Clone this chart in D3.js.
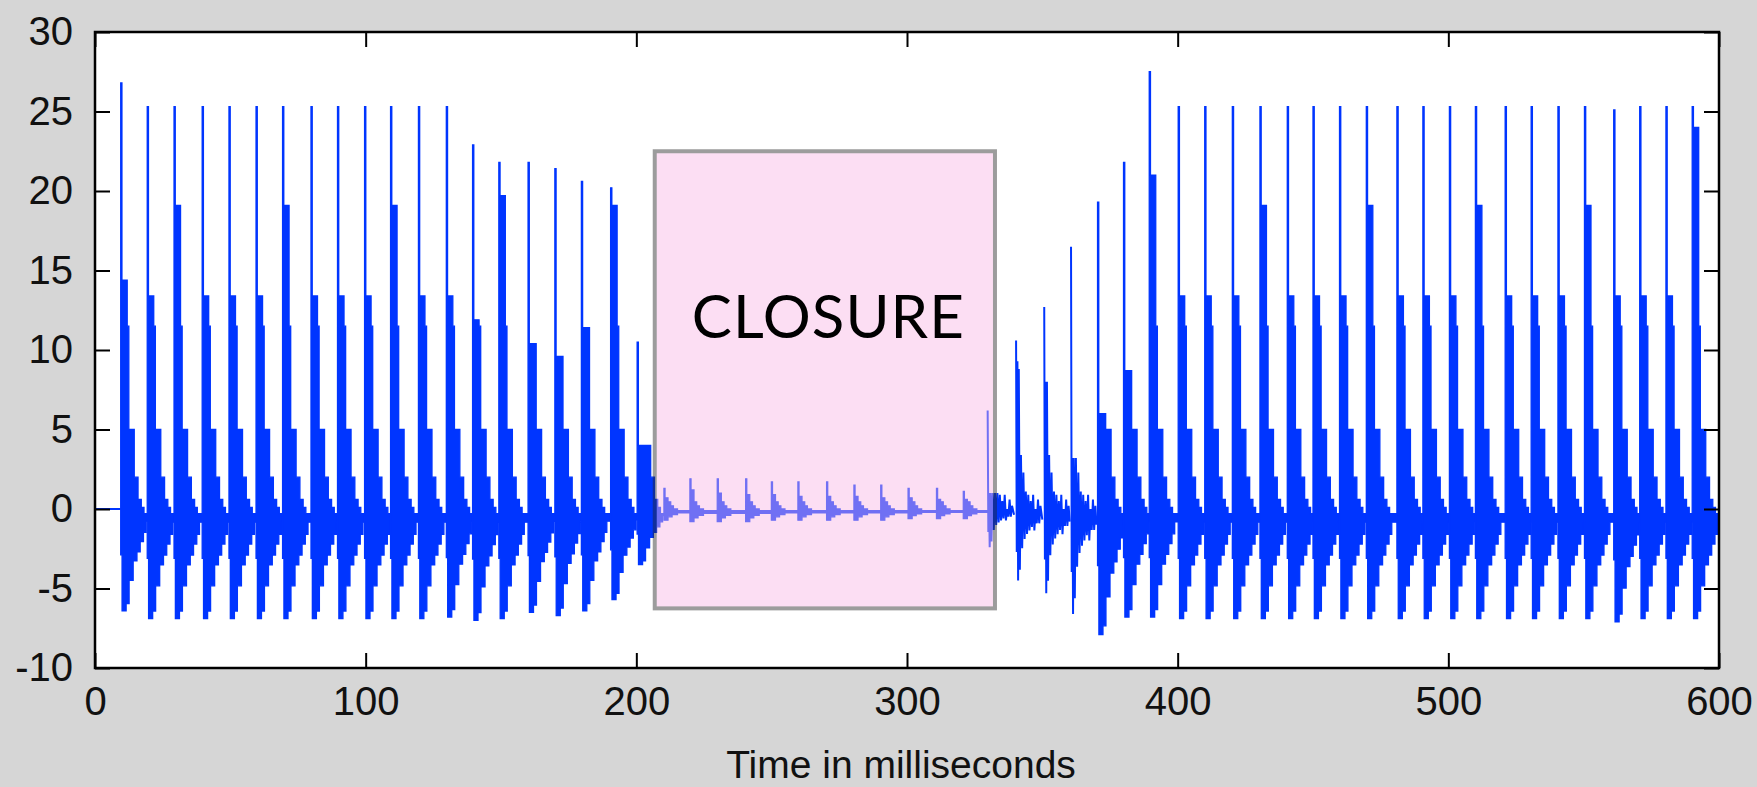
<!DOCTYPE html>
<html lang="en">
<head>
<meta charset="UTF-8">
<title>closure trace</title>
<style>
    body{ margin:0; overflow:hidden; background:#d6d6d6; }
</style>
</head>
<body>
<script src="https://cdnjs.cloudflare.com/ajax/libs/d3/7.8.2/d3.min.js"></script>
<script>
// spikes: time (ms), peak, top of the thick part after the spike, deepest dip
const pulseTimes  = [9.5,19.3,29.2,39.6,49.5,59.5,69.3,79.8,89.6,99.6,109.2,119.5,129.8,139.5,149.2,160.0,169.9,179.7,190.5,200.3,
                     210.2,219.8,229.9,240.4,249.9,259.7,270.3,280.4,290.3,300.4,310.9,320.8,
                     329.8,340.3,350.7,360.6,
                     370.4,380.0,389.5,400.2,410.0,420.2,430.4,440.5,450.0,459.8,469.7,481.0,490.6,500.4,510.0,521.0,530.6,540.5,550.3,561.1,570.7,580.4,590.1]
const pulsePeaks  = [26.8,25.3,25.3,25.3,25.3,25.3,25.3,25.3,25.3,25.3,25.3,25.3,25.3,22.9,21.8,21.8,21.4,20.6,20.2,10.5,
                     1.3,1.9,1.9,1.9,1.7,1.7,1.7,1.5,1.5,1.3,1.3,1.1,
                     6.2,10.6,12.7,16.5,
                     19.3,21.8,27.5,25.3,25.3,25.3,25.3,25.3,25.3,25.3,25.3,25.3,25.3,25.3,25.3,25.3,25.3,25.3,25.3,25.1,25.3,25.3,25.3]
const pulseSecond = [14.4,13.4,19.1,13.4,13.4,13.4,19.1,13.4,13.4,13.4,19.1,13.4,13.4,11.9,19.7,10.4,9.6,11.4,19.1,4.0,
                     0.7,1.2,1.0,0.9,0.9,0.8,0.8,0.8,0.7,0.7,0.6,0.6,
                     1.0,9.3,8.0,3.2,
                     6.0,8.7,21.0,13.4,13.4,13.4,19.1,13.4,13.4,13.4,19.1,13.4,13.4,13.4,19.1,13.4,13.4,13.4,19.1,13.4,13.4,13.4,24.0]
const pulseDepth  = [-6.4,-6.9,-6.9,-6.9,-6.9,-6.9,-6.9,-6.9,-6.9,-6.9,-6.9,-6.9,-6.8,-7.0,-6.9,-6.5,-6.7,-6.4,-5.7,-3.5,
                     -0.7,-0.8,-0.8,-0.8,-0.7,-0.7,-0.7,-0.7,-0.7,-0.6,-0.6,-0.6,
                     -2.4,-4.5,-5.3,-6.6,
                     -7.9,-6.8,-6.8,-6.9,-6.9,-6.9,-6.9,-6.9,-6.9,-6.9,-6.9,-6.9,-6.9,-6.9,-6.9,-6.9,-6.9,-6.9,-6.9,-7.1,-6.9,-6.9,-6.9]
const pulseStyle  = [...Array(20).fill('dense'), ...Array(12).fill('closure'), ...Array(4).fill('sparse'), ...Array(23).fill('dense')]

const denseUpOffsets = [0, 0.45, 2.4, 3.0, 5.0, 6.4, 7.6, 8.6]
const denseUpTail    = [11.5, 5.0, 2.0, 0.6, 0.1, -0.3]
const denseLoOffsets = [0, 0.5, 2.0, 3.1, 4.6, 6.0, 7.2, 8.4, 9.4]
const denseLoFrac    = [0.45, 1, 0.93, 0.70, 0.51, 0.42, 0.32, 0.23, 0.12]

const closureUpOffsets = [0, 0.4, 1.5, 2.5, 3.5, 5.0]
const closureUpTail    = [0.45, 0.2, 0.0, -0.1]
const closureLoOffsets = [0, 1.5, 3.0, 5.0]
const closureLoFrac    = [1, 0.7, 0.5, 0.35]

const sparseOffsets = [0, 0.5, 1.0, 1.8, 2.7, 3.6, 4.5, 5.4, 6.3, 7.2, 8.1, 9.0]
const sparseUpTail  = [8.8, 3.4, 2.3, 1.1, 0.9, 0.5, 0.9, 0.0, 0.6, 0.2]
const sparseLoFrac  = [0.6, 1, 0.85, 0.55, 0.42, 0.35, 0.3, 0.25, 0.3, 0.2, 0.2, 0.15]

const xTicks = [0,100,200,300,400,500,600]
const yTicks = [-10,-5,0,5,10,15,20,25,30]
const closureBox = {t0:206.8, t1:332.5, v0:-6.25, v1:22.5}

const W = 1757, H = 787
const svg = d3.select('body').append('svg').attr('width',W).attr('height',H)

svg.append('rect').attr('width',W).attr('height',H).attr('fill','#d6d6d6')

const x = d3.scaleLinear().domain([0,600]).range([95,1719])
const y = d3.scaleLinear().domain([-10,30]).range([668,32])

svg.append('rect')
.attr('x',x(0)).attr('y',y(30))
.attr('width',x(600)-x(0)).attr('height',y(-10)-y(30))
.attr('fill','white')

svg.append('clipPath').attr('id','plot')
.append('rect')
.attr('x',x(0)).attr('y',y(30))
.attr('width',x(600)-x(0)).attr('height',y(-10)-y(30))

function stepAt(offs, vals, o){
    let v = vals[0]
    for(let i=0;i<offs.length;i++){ if(o>=offs[i]) v = vals[i] }
    return v
}

const pulses = pulseTimes.map((t,i)=>({
    t, end: i<pulseTimes.length-1 ? pulseTimes[i+1] : 600,
    peak: pulsePeaks[i], h2: pulseSecond[i], depth: pulseDepth[i], style: pulseStyle[i]
}))

function envelope(p){
    let upO, upV, loO, loV
    if(p.style==='closure'){
        upO = closureUpOffsets; upV = [p.peak, p.h2, ...closureUpTail]
        loO = closureLoOffsets; loV = closureLoFrac.map(f=>f*p.depth)
    } else {
        upO = denseUpOffsets; upV = [p.peak, p.h2, ...denseUpTail.map(v=>Math.min(v,p.h2))]
        loO = denseLoOffsets; loV = denseLoFrac.map(f=>f*p.depth)
    }
    const span = p.end - p.t
    const offs = Array.from(new Set([...upO,...loO])).filter(o=>o<span).sort((a,b)=>a-b)
    const pts = offs.map(o=>({t:p.t+o, hi:stepAt(upO,upV,o), lo:stepAt(loO,loV,o)}))
    const last = pts[pts.length-1]
    pts.push({t:p.end, hi:last.hi, lo:last.lo})
    return pts
}

function zigzag(p){
    const upV = [p.peak, p.h2, ...sparseUpTail.map(v=>Math.min(v,p.h2))]
    const span = p.end - p.t
    const pts = []
    sparseOffsets.forEach((o,i)=>{
        if(o>=span) return
        const next = i<sparseOffsets.length-1 ? Math.min(sparseOffsets[i+1],span) : span
        pts.push({t:p.t+o, v:upV[i]})
        pts.push({t:p.t+(o+next)/2, v:sparseLoFrac[i]*p.depth})
    })
    return pts
}

const blue = '#0035ff'
const trace = svg.append('g').attr('clip-path','url(#plot)')

const area = d3.area()
.x(d=>x(d.t)).y0(d=>y(d.lo)).y1(d=>y(d.hi))
.curve(d3.curveStepAfter)

const line = d3.line().x(d=>x(d.t)).y(d=>y(d.v))

// flat lead-in before the first spike
trace.append('path')
.attr('d', line([{t:0,v:0},{t:pulseTimes[0],v:0}]))
.attr('fill','none').attr('stroke',blue).attr('stroke-width',2)

trace.selectAll('path.band')
.data(pulses.filter(p=>p.style!=='sparse'))
.join('path')
.attr('class','band')
.attr('d', p=>area(envelope(p)))
.attr('fill',blue)
.attr('stroke',blue)
.attr('stroke-width',1.3)

trace.selectAll('path.zig')
.data(pulses.filter(p=>p.style==='sparse'))
.join('path')
.attr('class','zig')
.attr('d', p=>line(zigzag(p)))
.attr('fill','none')
.attr('stroke',blue)
.attr('stroke-width',2)

// translucent CLOSURE box
const box = svg.append('g').attr('opacity',0.45)
box.append('rect')
.attr('x',x(closureBox.t0)).attr('y',y(closureBox.v1))
.attr('width',x(closureBox.t1)-x(closureBox.t0))
.attr('height',y(closureBox.v0)-y(closureBox.v1))
.attr('fill','#f9b8e6')
.attr('stroke','#262626')
.attr('stroke-width',4)

svg.append('text')
.attr('x',x((closureBox.t0+closureBox.t1)/2)+3)
.attr('y',338)
.attr('text-anchor','middle')
.attr('font-family','Lato, "Open Sans", sans-serif')
.attr('font-size',60)
.attr('textLength',272)
.attr('lengthAdjust','spacing')
.attr('fill','black')
.text('CLOSURE')

// axes: inward ticks on all four sides, MATLAB style
const tickFont = '"Liberation Sans", Arial, sans-serif'

const gx = svg.append('g').attr('transform',`translate(0,${y(-10)})`)
.call(d3.axisBottom(x).tickValues(xTicks).tickSize(-15).tickSizeOuter(0).tickPadding(19).tickFormat(d=>String(d)))
const gxTop = svg.append('g').attr('transform',`translate(0,${y(30)})`)
.call(d3.axisTop(x).tickValues(xTicks).tickSize(-15).tickSizeOuter(0).tickFormat(''))
const gy = svg.append('g').attr('transform',`translate(${x(0)},0)`)
.call(d3.axisLeft(y).tickValues(yTicks).tickSize(-15).tickSizeOuter(0).tickPadding(22).tickFormat(d=>String(d)))
const gyRight = svg.append('g').attr('transform',`translate(${x(600)},0)`)
.call(d3.axisRight(y).tickValues(yTicks).tickSize(-15).tickSizeOuter(0).tickFormat(''))

;[gx,gxTop,gy,gyRight].forEach(g=>{
    g.select('.domain').remove()
    g.selectAll('line').attr('stroke','black').attr('stroke-width',2)
    g.selectAll('text').attr('font-family',tickFont).attr('font-size',40).attr('fill','#111')
})

svg.append('rect')
.attr('x',x(0)).attr('y',y(30))
.attr('width',x(600)-x(0)).attr('height',y(-10)-y(30))
.attr('fill','none').attr('stroke','black').attr('stroke-width',2.5)

svg.append('text')
.attr('x',(x(0)+x(600))/2 - 6)
.attr('y',778)
.attr('text-anchor','middle')
.attr('font-family',tickFont)
.attr('font-size',39)
.attr('fill','#111')
.text('Time in milliseconds')
</script>
</body>
</html>
